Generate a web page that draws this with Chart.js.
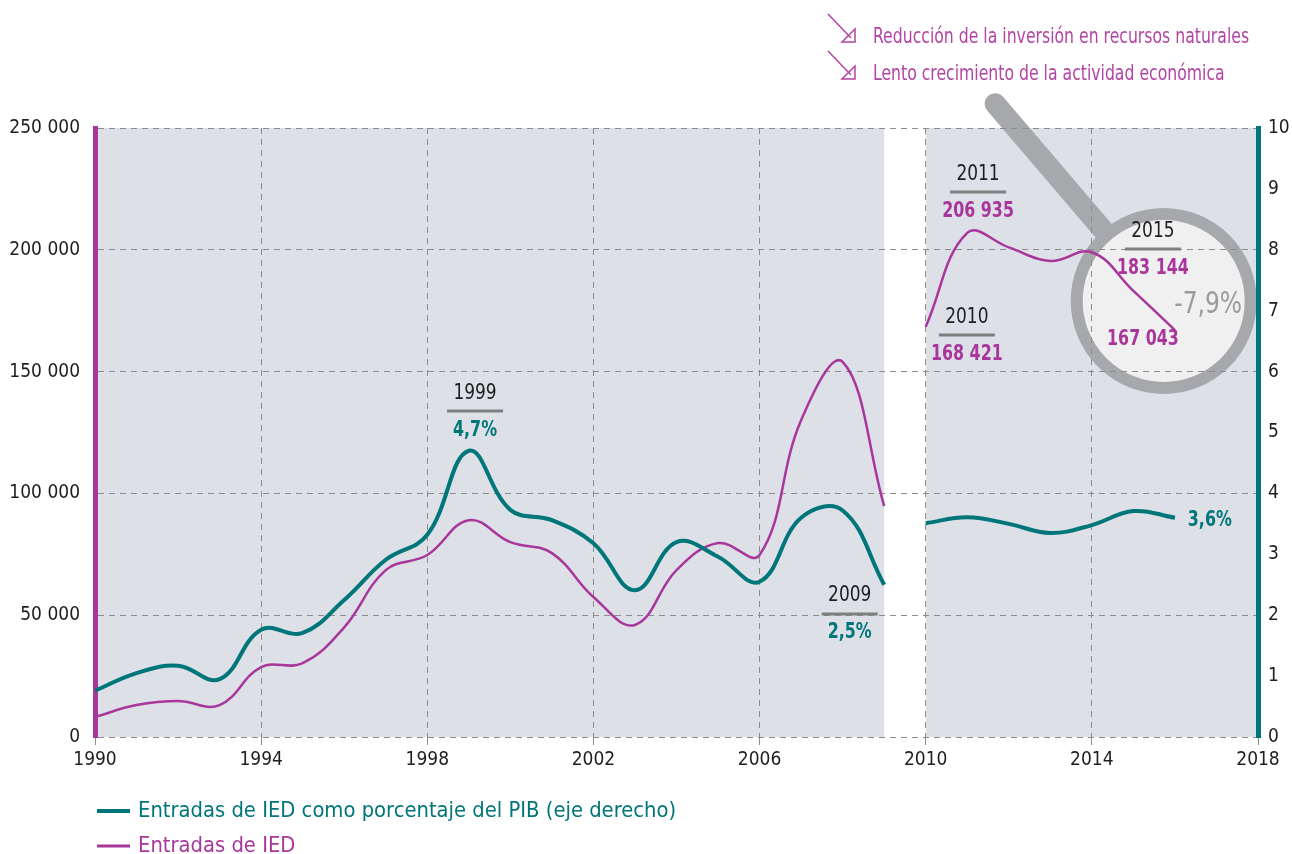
<!DOCTYPE html>
<html>
<head>
<meta charset="utf-8">
<script src="https://cdn.jsdelivr.net/npm/chart.js@4.4.1/dist/chart.umd.min.js"></script>
<style>
  html, body { margin: 0; padding: 0; background: #fff; }
  canvas { display: block; }
</style>
</head>
<body>
<canvas id="chart-ied" width="1292" height="854"></canvas>
<script>
// data
const years = [1990, 1991, 1992, 1993, 1994, 1995, 1996, 1997, 1998, 1999,
  2000, 2001, 2002, 2003, 2004, 2005, 2006, 2007, 2008, 2009,
  2010, 2011, 2012, 2013, 2014, 2015, 2016];
const iedValues = [8200, 13100, 14800, 13100, 28700, 30300, 45000, 68500, 74700, 89000,
  80000, 75500, 57500, 46000, 68500, 79600, 74700, 130000, 154000, 94800,
  168421, 206935, 201000, 195400, 199000, 183144, 167043];
const iedPctGdp = [0.76, 1.05, 1.17, 0.95, 1.76, 1.71, 2.25, 2.91, 3.32, 4.7,
  3.73, 3.56, 3.18, 2.41, 3.2, 2.96, 2.55, 3.6, 3.72, 2.5,
  3.51, 3.61, 3.5, 3.35, 3.48, 3.71, 3.6];
const breakAfter = 2009; // series break between 2009 and 2010
const xTicks = [1990, 1994, 1998, 2002, 2006, 2010, 2014, 2018];
const leftTicks = [0, 50000, 100000, 150000, 200000, 250000];
const rightTicks = [0, 1, 2, 3, 4, 5, 6, 7, 8, 9, 10];
const shadedSpans = [[1990, 2009], [2010, 2018]];

const TEAL = '#00767a';
const MAGENTA = '#a8369b';
const NOTE = '#b444a4';
const SHADE = '#dde1e7';
const GRAY = '#a7a8ab';
const FONT = "'DejaVu Sans Condensed', 'Roboto', sans-serif";
const SQUEEZE = 0.84; // narrower glyphs, closer to the condensed face of the original

const fmtThousands = (v) => String(v).replace(/\B(?=(\d{3})+(?!\d))/g, ' ');

// build {x,y} points with a null at the break so the line splits
function toPoints(values) {
  const pts = [];
  years.forEach((yr, i) => {
    pts.push({ x: yr, y: values[i] });
    if (yr === breakAfter) pts.push({ x: yr + 0.5, y: null });
  });
  return pts;
}

function squeezed(ctx, text, x, y, k = SQUEEZE) {
  ctx.fillText(text, x, y, ctx.measureText(text).width * k);
}

// text callouts: year over a rule, value under it (positions in data units, left axis)
const callouts = [
  { x: 1999.15, y: 133800, year: '1999', text: '4,7%', color: TEAL },
  { x: 2008.17, y: 50500, year: '2009', text: '2,5%', color: TEAL },
  { x: 2011.26, y: 223700, year: '2011', text: '206 935', color: MAGENTA },
  { x: 2010.99, y: 165000, year: '2010', text: '168 421', color: MAGENTA },
  { x: 2015.47, y: 200300, year: '2015', text: '183 144', color: MAGENTA },
];
const plainLabels = [
  { x: 2015.23, y: 163000, text: '167 043', color: MAGENTA, font: 'bold 21px ' + FONT },
  { x: 2016.84, y: 89000, text: '3,6%', color: TEAL, font: 'bold 21px ' + FONT },
  { x: 2016.8, y: 177300, text: '-7,9%', color: '#9b9b9d', font: '31px ' + FONT },
];

const decor = {
  id: 'decor',
  beforeDraw(chart) {
    const { ctx, chartArea: a, scales: { x, y } } = chart;
    ctx.save();
    ctx.fillStyle = SHADE;
    shadedSpans.forEach(([s, e]) => {
      const x0 = x.getPixelForValue(s);
      const x1 = x.getPixelForValue(e);
      ctx.fillRect(x0, a.top, x1 - x0, a.bottom - a.top);
    });

    // magnifying glass around the 2014-2016 drop
    const cx = x.getPixelForValue(2015.73);
    const cy = y.getPixelForValue(179000);
    const r = 87;
    const hx = x.getPixelForValue(2011.67);
    const hy = y.getPixelForValue(260000);
    const ang = Math.atan2(cy - hy, cx - hx);
    ctx.strokeStyle = GRAY;
    ctx.lineCap = 'round';
    ctx.lineWidth = 21;
    ctx.beginPath();
    ctx.moveTo(hx, hy);
    ctx.lineTo(cx - Math.cos(ang) * r, cy - Math.sin(ang) * r);
    ctx.stroke();
    ctx.beginPath();
    ctx.arc(cx, cy, r, 0, Math.PI * 2);
    ctx.fillStyle = '#f0f0f0';
    ctx.fill();
    ctx.lineWidth = 12;
    ctx.stroke();
    ctx.restore();
  },
  afterDatasetsDraw(chart) {
    const { ctx, scales: { x, y } } = chart;
    ctx.save();
    ctx.textAlign = 'center';
    ctx.textBaseline = 'middle';
    callouts.forEach((c) => {
      const px = x.getPixelForValue(c.x);
      const py = y.getPixelForValue(c.y);
      ctx.fillStyle = '#1e1e1e';
      ctx.font = '21px ' + FONT;
      squeezed(ctx, c.year, px, py - 18, 0.9);
      ctx.strokeStyle = '#7f7f7f';
      ctx.lineWidth = 3;
      ctx.beginPath();
      ctx.moveTo(px - 28, py);
      ctx.lineTo(px + 28, py);
      ctx.stroke();
      ctx.fillStyle = c.color;
      ctx.font = 'bold 21px ' + FONT;
      squeezed(ctx, c.text, px, py + 19);
    });
    plainLabels.forEach((l) => {
      ctx.fillStyle = l.color;
      ctx.font = l.font;
      squeezed(ctx, l.text, x.getPixelForValue(l.x), y.getPixelForValue(l.y));
    });
    ctx.restore();
  },
  afterDraw(chart) {
    const { ctx } = chart;
    ctx.save();
    // notes at the top right
    const notes = ['Reducción de la inversión en recursos naturales', 'Lento crecimiento de la actividad económica'];
    notes.forEach((t, i) => {
      const oy = i * 37;
      ctx.strokeStyle = NOTE;
      ctx.lineWidth = 1.5;
      ctx.beginPath();
      ctx.moveTo(828, 14 + oy);
      ctx.lineTo(851, 38 + oy);
      ctx.stroke();
      ctx.beginPath();
      ctx.moveTo(855, 29 + oy);
      ctx.lineTo(855, 42 + oy);
      ctx.lineTo(842, 42 + oy);
      ctx.closePath();
      ctx.stroke();
      ctx.fillStyle = NOTE;
      ctx.font = '21px ' + FONT;
      ctx.textBaseline = 'middle';
      ctx.textAlign = 'left';
      squeezed(ctx, t, 873, 38 + oy, 0.83);
    });
    // legend
    const items = [
      { label: 'Entradas de IED como porcentaje del PIB (eje derecho)', color: TEAL, w: 4 },
      { label: 'Entradas de IED', color: MAGENTA, w: 3 },
    ];
    items.forEach((it, i) => {
      const ly = 811 + i * 35;
      ctx.strokeStyle = it.color;
      ctx.lineWidth = it.w;
      ctx.lineCap = 'butt';
      ctx.beginPath();
      ctx.moveTo(97, ly);
      ctx.lineTo(130, ly);
      ctx.stroke();
      ctx.fillStyle = it.color;
      ctx.font = '22px ' + FONT;
      ctx.textBaseline = 'middle';
      ctx.textAlign = 'left';
      squeezed(ctx, it.label, 138, ly, 0.99);
    });
    ctx.restore();
  },
};

const tickFont = { family: FONT, size: 19 };

new Chart(document.getElementById('chart-ied'), {
  type: 'line',
  plugins: [decor],
  data: {
    datasets: [
      {
        label: 'Entradas de IED como porcentaje del PIB (eje derecho)',
        data: toPoints(iedPctGdp),
        yAxisID: 'y1',
        borderColor: TEAL,
        borderWidth: 4,
        tension: 0.4,
        pointRadius: 0,
      },
      {
        label: 'Entradas de IED',
        data: toPoints(iedValues),
        yAxisID: 'y',
        borderColor: MAGENTA,
        borderWidth: 2.5,
        tension: 0.4,
        pointRadius: 0,
      },
    ],
  },
  options: {
    responsive: false,
    animation: false,
    devicePixelRatio: 1,
    layout: { padding: { top: 128, left: 0, right: 0, bottom: 0 } },
    plugins: { legend: { display: false }, tooltip: { enabled: false } },
    scales: {
      x: {
        type: 'linear',
        min: 1990,
        max: 2018,
        afterBuildTicks: (s) => { s.ticks = xTicks.map((v) => ({ value: v })); },
        afterFit: (s) => { s.height = 117; },
        ticks: { callback: (v) => String(v), font: tickFont, color: '#1e1e1e', padding: 4, maxRotation: 0 },
        grid: { color: '#8c8c8c', lineWidth: 1, tickLength: 8 },
        border: { display: false, dash: [6, 5] },
      },
      y: {
        position: 'left',
        min: 0,
        max: 250000,
        afterBuildTicks: (s) => { s.ticks = leftTicks.map((v) => ({ value: v })); },
        afterFit: (s) => { s.width = 95; },
        ticks: { callback: (v) => fmtThousands(v), font: tickFont, color: '#1e1e1e', padding: 15 },
        grid: { color: '#8c8c8c', lineWidth: 1, drawTicks: false },
        border: { display: true, color: MAGENTA, width: 5, dash: [6, 5] },
      },
      y1: {
        position: 'right',
        min: 0,
        max: 10,
        afterBuildTicks: (s) => { s.ticks = rightTicks.map((v) => ({ value: v })); },
        afterFit: (s) => { s.width = 34; },
        ticks: { font: tickFont, color: '#1e1e1e', padding: 10 },
        grid: { drawOnChartArea: false, drawTicks: false },
        border: { display: true, color: TEAL, width: 5 },
      },
    },
  },
});
</script>
</body>
</html>
